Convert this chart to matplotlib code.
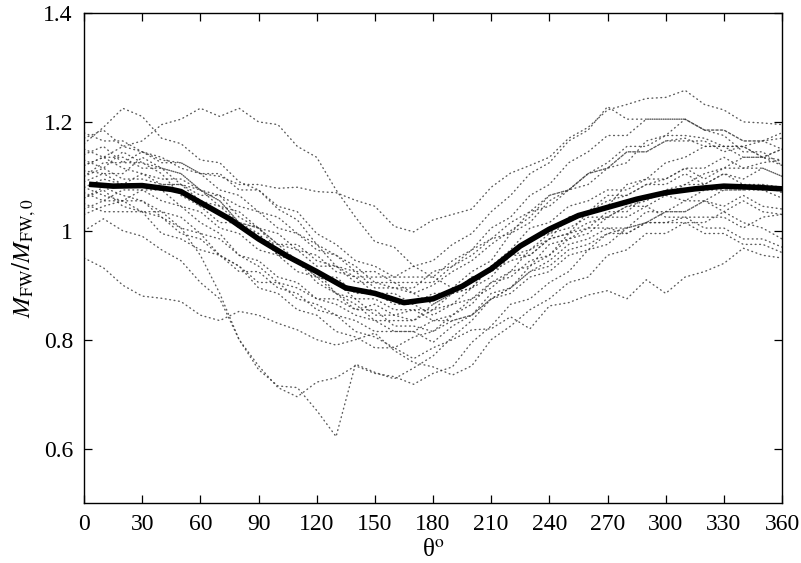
"""
Normalised flexural-wave moment M_FW / M_FW,0 against heading angle theta.
Thin dotted lines: individual realisations. Thick line: ensemble mean.
"""

import matplotlib
matplotlib.use('Agg')
import matplotlib.pyplot as plt


# theta grid (degrees) shared by every dotted realisation
THETA = list(range(0, 361, 10))

# individual realisations, one value per THETA entry
RUNS = [
    [1.16, 1.19, 1.225, 1.21, 1.17, 1.16, 1.13, 1.125, 1.09, 1.075, 1.04, 1.02, 0.975, 0.955, 0.935, 0.905, 0.905, 0.885,
     0.90, 0.925, 0.945, 0.975, 1.00, 1.025, 1.065, 1.075, 1.105, 1.115, 1.145, 1.145, 1.165, 1.17, 1.155, 1.155, 1.135,
     1.135, 1.12],
    [1.12, 1.135, 1.155, 1.165, 1.195, 1.205, 1.225, 1.21, 1.225, 1.20, 1.195, 1.155, 1.135, 1.075, 1.025, 0.98, 0.97,
     0.935, 0.915, 0.895, 0.925, 0.945, 0.995, 1.015, 1.055, 1.075, 1.105, 1.125, 1.155, 1.155, 1.175, 1.175, 1.17,
     1.155, 1.155, 1.165, 1.17],
    [1.10, 1.125, 1.125, 1.145, 1.13, 1.125, 1.105, 1.10, 1.085, 1.085, 1.078, 1.08, 1.072, 1.07, 1.056, 1.045, 1.008,
     0.998, 1.02, 1.03, 1.04, 1.08, 1.106, 1.12, 1.135, 1.17, 1.19, 1.222, 1.232, 1.243, 1.245, 1.258, 1.232, 1.222,
     1.20, 1.198, 1.195],
    [1.06, 1.08, 1.065, 1.055, 1.025, 1.005, 0.955, 0.885, 0.80, 0.745, 0.715, 0.712, 0.67, 0.622, 0.755, 0.74, 0.728,
     0.748, 0.77, 0.805, 0.835, 0.875, 0.895, 0.935, 0.955, 0.995, 1.005, 1.035, 1.035, 1.065, 1.065, 1.085, 1.085,
     1.105, 1.095, 1.115, 1.10],
    [0.95, 0.932, 0.90, 0.88, 0.876, 0.87, 0.845, 0.835, 0.852, 0.845, 0.83, 0.818, 0.80, 0.79, 0.80, 0.812, 0.78, 0.758,
     0.75, 0.735, 0.752, 0.80, 0.825, 0.855, 0.875, 0.905, 0.915, 0.955, 0.965, 0.995, 0.995, 1.015, 1.015, 1.035,
     1.015, 1.005, 0.985],
    [1.00, 1.022, 1.00, 0.99, 0.965, 0.945, 0.905, 0.875, 0.80, 0.752, 0.712, 0.695, 0.722, 0.73, 0.752, 0.738, 0.732,
     0.718, 0.738, 0.75, 0.795, 0.825, 0.865, 0.875, 0.905, 0.925, 0.965, 0.975, 1.005, 1.015, 1.035, 1.035, 1.055,
     1.035, 1.055, 1.035, 1.03],
    [1.08, 1.065, 1.055, 1.035, 1.025, 0.995, 0.985, 0.955, 0.935, 0.895, 0.885, 0.855, 0.845, 0.815, 0.805, 0.785, 0.785,
     0.765, 0.785, 0.80, 0.818, 0.82, 0.842, 0.82, 0.862, 0.868, 0.882, 0.89, 0.875, 0.91, 0.885, 0.915, 0.925, 0.94,
     0.968, 0.955, 0.95],
    [1.14, 1.155, 1.125, 1.125, 1.115, 1.105, 1.075, 1.055, 1.015, 0.995, 0.955, 0.945, 0.915, 0.905, 0.875, 0.875, 0.855,
     0.855, 0.855, 0.885, 0.895, 0.935, 0.955, 0.985, 0.995, 1.025, 1.035, 1.055, 1.065, 1.085, 1.095, 1.115, 1.115,
     1.135, 1.115, 1.125, 1.13],
    [1.07, 1.055, 1.075, 1.075, 1.075, 1.045, 1.035, 1.005, 0.995, 0.965, 0.955, 0.925, 0.915, 0.885, 0.865, 0.835, 0.835,
     0.835, 0.855, 0.865, 0.895, 0.915, 0.955, 0.965, 0.995, 1.005, 1.025, 1.025, 1.045, 1.045, 1.065, 1.055, 1.075,
     1.075, 1.075, 1.085, 1.07],
    [1.18, 1.165, 1.165, 1.145, 1.135, 1.115, 1.105, 1.075, 1.065, 1.035, 1.025, 0.995, 0.975, 0.935, 0.925, 0.895, 0.895,
     0.895, 0.925, 0.935, 0.965, 0.985, 1.015, 1.035, 1.065, 1.075, 1.105, 1.115, 1.145, 1.145, 1.165, 1.165, 1.165,
     1.145, 1.155, 1.135, 1.15],
    [1.04, 1.055, 1.055, 1.055, 1.035, 1.025, 0.995, 0.985, 0.955, 0.945, 0.915, 0.905, 0.875, 0.865, 0.845, 0.835, 0.815,
     0.815, 0.795, 0.825, 0.845, 0.875, 0.895, 0.925, 0.935, 0.965, 0.975, 0.995, 0.995, 1.015, 1.015, 1.025, 1.025,
     1.025, 1.005, 1.025, 1.03],
    [1.10, 1.115, 1.095, 1.095, 1.085, 1.085, 1.055, 1.045, 1.015, 1.005, 0.975, 0.975, 0.945, 0.935, 0.905, 0.905, 0.895,
     0.885, 0.865, 0.885, 0.895, 0.935, 0.965, 1.005, 1.015, 1.045, 1.055, 1.075, 1.075, 1.095, 1.095, 1.115, 1.095,
     1.115, 1.115, 1.115, 1.10],
    [1.13, 1.115, 1.145, 1.125, 1.105, 1.065, 1.045, 1.015, 1.015, 0.985, 0.975, 0.945, 0.925, 0.885, 0.875, 0.845, 0.845,
     0.835, 0.865, 0.885, 0.915, 0.925, 0.945, 0.955, 0.985, 0.995, 1.035, 1.045, 1.085, 1.095, 1.125, 1.135, 1.155,
     1.155, 1.155, 1.135, 1.13],
    [1.05, 1.035, 1.035, 1.035, 1.035, 1.005, 0.995, 0.955, 0.935, 0.905, 0.905, 0.875, 0.865, 0.845, 0.835, 0.815, 0.815,
     0.815, 0.835, 0.845, 0.875, 0.895, 0.925, 0.935, 0.975, 0.985, 1.005, 1.005, 1.005, 1.015, 1.035, 1.035, 1.055,
     1.045, 1.065, 1.045, 1.04],
    [1.12, 1.135, 1.115, 1.105, 1.085, 1.085, 1.065, 1.065, 1.045, 1.035, 1.005, 0.995, 0.965, 0.955, 0.925, 0.925, 0.905,
     0.905, 0.905, 0.935, 0.955, 0.985, 0.995, 1.035, 1.045, 1.075, 1.085, 1.115, 1.125, 1.165, 1.175, 1.205, 1.185,
     1.185, 1.165, 1.165, 1.18],
    [1.09, 1.105, 1.105, 1.135, 1.115, 1.105, 1.075, 1.055, 1.015, 1.005, 0.975, 0.965, 0.935, 0.935, 0.915, 0.915, 0.915,
     0.935, 0.945, 0.975, 0.995, 1.035, 1.065, 1.105, 1.125, 1.165, 1.185, 1.228, 1.205, 1.205, 1.205, 1.205, 1.185,
     1.175, 1.145, 1.145, 1.12],
    [1.06, 1.075, 1.045, 1.035, 0.995, 0.985, 0.965, 0.955, 0.925, 0.925, 0.895, 0.885, 0.855, 0.845, 0.815, 0.805, 0.785,
     0.805, 0.815, 0.845, 0.865, 0.905, 0.915, 0.945, 0.955, 0.985, 0.995, 1.025, 1.025, 1.045, 1.025, 1.025, 1.005,
     1.005, 0.985, 0.985, 0.97],
    [1.15, 1.135, 1.135, 1.115, 1.115, 1.085, 1.075, 1.045, 1.035, 1.005, 0.995, 0.965, 0.955, 0.925, 0.915, 0.885, 0.885,
     0.865, 0.885, 0.885, 0.915, 0.925, 0.955, 0.955, 0.985, 0.995, 1.015, 1.025, 1.045, 1.055, 1.075, 1.085, 1.105,
     1.115, 1.135, 1.135, 1.15],
    [1.08, 1.095, 1.085, 1.105, 1.095, 1.095, 1.075, 1.065, 1.025, 1.005, 0.965, 0.945, 0.915, 0.915, 0.885, 0.885, 0.865,
     0.865, 0.845, 0.865, 0.875, 0.905, 0.925, 0.965, 0.985, 1.025, 1.035, 1.065, 1.065, 1.085, 1.085, 1.105, 1.085,
     1.105, 1.085, 1.085, 1.08],
    [1.03, 1.045, 1.055, 1.075, 1.055, 1.045, 1.015, 0.995, 0.955, 0.935, 0.905, 0.895, 0.875, 0.875, 0.855, 0.865, 0.845,
     0.855, 0.835, 0.835, 0.845, 0.885, 0.895, 0.925, 0.945, 0.975, 0.985, 1.005, 0.995, 1.015, 1.015, 1.015, 0.995,
     0.995, 0.975, 0.975, 0.96],
    [1.17, 1.185, 1.155, 1.145, 1.125, 1.125, 1.105, 1.105, 1.075, 1.075, 1.045, 1.035, 0.995, 0.975, 0.945, 0.935, 0.915,
     0.915, 0.915, 0.945, 0.965, 1.005, 1.025, 1.065, 1.085, 1.125, 1.145, 1.175, 1.175, 1.205, 1.205, 1.205, 1.185,
     1.185, 1.165, 1.165, 1.15],
    [1.11, 1.105, 1.085, 1.085, 1.075, 1.075, 1.045, 1.035, 1.005, 0.995, 0.955, 0.945, 0.905, 0.885, 0.855, 0.855, 0.825,
     0.825, 0.815, 0.835, 0.845, 0.875, 0.885, 0.915, 0.925, 0.955, 0.965, 0.995, 1.005, 1.035, 1.035, 1.055, 1.055,
     1.075, 1.075, 1.075, 1.06],
]

# ensemble mean (thick line)
MEAN_THETA = [4, 15, 30, 45, 50, 60, 75, 90, 105, 120, 135, 150, 165, 180, 195, 210, 225, 240, 255, 270, 285, 300,
              315, 330, 345, 360]
MEAN_VALUE = [1.085, 1.082, 1.083, 1.076, 1.072, 1.052, 1.022, 0.985, 0.953, 0.925, 0.895, 0.885, 0.868, 0.875, 0.898,
              0.93, 0.972, 1.003, 1.028, 1.043, 1.058, 1.07, 1.077, 1.082, 1.08, 1.077]

X_TICKS = list(range(0, 361, 30))
Y_TICKS = [0.6, 0.8, 1.0, 1.2, 1.4]
Y_TICK_LABELS = ['0.6', '0.8', '1', '1.2', '1.4']


plt.rcParams['font.family'] = ['Liberation Serif', 'DejaVu Serif']
plt.rcParams['mathtext.fontset'] = 'stix'

fig = plt.figure(figsize=(8.01, 5.63), dpi=100)
ax = fig.add_axes([0.1049, 0.1066, 0.8714, 0.8703])

for run in RUNS:
    ax.plot(THETA, run, color='#333333', linestyle=(0, (0.6, 2.6)), linewidth=1.0,
            dash_capstyle='round', alpha=0.8)

ax.plot(MEAN_THETA, MEAN_VALUE, color='black', linewidth=4.0)

ax.set_xlim(0, 360)
ax.set_ylim(0.5, 1.4)
ax.set_xticks(X_TICKS)
ax.set_yticks(Y_TICKS)
ax.set_yticklabels(Y_TICK_LABELS)
ax.tick_params(direction='in', length=6, width=0.9, top=True, right=True,
               labelsize=17, pad=8)
for spine in ax.spines.values():
    spine.set_linewidth(1.0)

ax.set_xlabel('θ$^{\\mathrm{o}}$', fontsize=18, labelpad=3)
ax.set_ylabel(r'$M_{\mathrm{FW}}/M_{\mathrm{FW},0}$', fontsize=18, labelpad=4)

fig.savefig('out.png', dpi=100, facecolor='white')
